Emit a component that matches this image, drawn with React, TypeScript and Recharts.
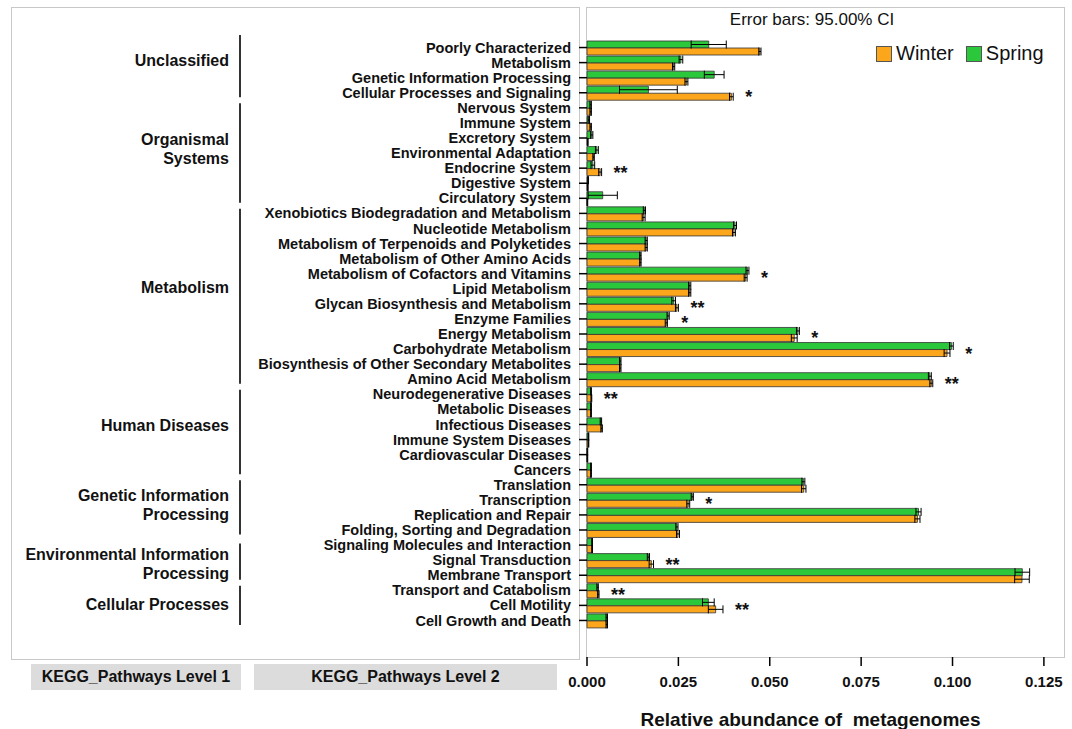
import React from "react";
import { Bar, BarChart, ErrorBar, LabelList, Legend, XAxis, YAxis } from "recharts";

// KEGG level 2 pathways, top to bottom
const categories = [
  "Poorly Characterized",
  "Metabolism",
  "Genetic Information Processing",
  "Cellular Processes and Signaling",
  "Nervous System",
  "Immune System",
  "Excretory System",
  "Environmental Adaptation",
  "Endocrine System",
  "Digestive System",
  "Circulatory System",
  "Xenobiotics Biodegradation and Metabolism",
  "Nucleotide Metabolism",
  "Metabolism of Terpenoids and Polyketides",
  "Metabolism of Other Amino Acids",
  "Metabolism of Cofactors and Vitamins",
  "Lipid Metabolism",
  "Glycan Biosynthesis and Metabolism",
  "Enzyme Families",
  "Energy Metabolism",
  "Carbohydrate Metabolism",
  "Biosynthesis of Other Secondary Metabolites",
  "Amino Acid Metabolism",
  "Neurodegenerative Diseases",
  "Metabolic Diseases",
  "Infectious Diseases",
  "Immune System Diseases",
  "Cardiovascular Diseases",
  "Cancers",
  "Translation",
  "Transcription",
  "Replication and Repair",
  "Folding, Sorting and Degradation",
  "Signaling Molecules and Interaction",
  "Signal Transduction",
  "Membrane Transport",
  "Transport and Catabolism",
  "Cell Motility",
  "Cell Growth and Death",
];

// KEGG level 1 groups (label lines) and how many level 2 rows each covers
const groupNames = [
  ["Unclassified"],
  ["Organismal", "Systems"],
  ["Metabolism"],
  ["Human Diseases"],
  ["Genetic Information", "Processing"],
  ["Environmental Information", "Processing"],
  ["Cellular Processes"],
];
const groupSizes = [4, 7, 12, 6, 4, 3, 3];

const winter = [
  0.0473, 0.0237, 0.0272, 0.0395, 0.001, 0.001, 0.0002, 0.0018, 0.0036, 0.0002, 0.0001,
  0.0155, 0.0402, 0.0162, 0.0146, 0.0434, 0.0281, 0.0246, 0.0217, 0.0567, 0.0985, 0.0091, 0.0942,
  0.0012, 0.0011, 0.004, 0.0004, 0.0001, 0.0011,
  0.0593, 0.0277, 0.0904, 0.0249, 0.0014, 0.0176, 0.119, 0.0031, 0.0352, 0.0054,
];
const spring = [
  0.0333, 0.0257, 0.0348, 0.0168, 0.001, 0.0005, 0.0013, 0.0027, 0.0016, 0.0003, 0.0043,
  0.0157, 0.0405, 0.0162, 0.0146, 0.0439, 0.0281, 0.0237, 0.0222, 0.0577, 0.0997, 0.0091, 0.0938,
  0.0011, 0.0011, 0.0038, 0.0004, 0.0001, 0.0011,
  0.0592, 0.0288, 0.0907, 0.0246, 0.0014, 0.0168, 0.1191, 0.0029, 0.0332, 0.0054,
];
// half width of the 95% CI
const winterCI = [
  0.0003, 0.0003, 0.0004, 0.0005, 0.0002, 0.0002, 0.0001, 0.0002, 0.0004, 0.0001, 0.0001,
  0.0004, 0.0004, 0.0003, 0.0002, 0.0004, 0.0003, 0.0004, 0.0003, 0.0008, 0.0008, 0.0002, 0.0004,
  0.0001, 0.0001, 0.0002, 0.0001, 0.0001, 0.0001,
  0.0006, 0.0004, 0.0007, 0.0004, 0.0001, 0.0006, 0.002, 0.0002, 0.002, 0.0002,
];
const springCI = [
  0.0048, 0.0005, 0.0027, 0.0079, 0.0002, 0.0002, 0.0003, 0.0004, 0.0005, 0.0001, 0.004,
  0.0003, 0.0004, 0.0003, 0.0002, 0.0004, 0.0003, 0.0005, 0.0003, 0.0004, 0.0005, 0.0002, 0.0004,
  0.0001, 0.0001, 0.0002, 0.0001, 0.0001, 0.0001,
  0.0004, 0.0003, 0.0007, 0.0003, 0.0001, 0.0003, 0.002, 0.0002, 0.0016, 0.0002,
];
const signif = [
  "", "", "", "*", "", "", "", "", "**", "", "",
  "", "", "", "", "*", "", "**", "*", "*", "*", "", "**",
  "**", "", "", "", "", "",
  "", "*", "", "", "", "**", "", "**", "**", "",
];
const xTicks = [0, 0.025, 0.05, 0.075, 0.1, 0.125];

const series = [
  { key: "winter", name: "Winter", color: "#fca61c" },
  { key: "spring", name: "Spring", color: "#2cc83c" },
];

const FONT = '"Liberation Sans", Arial, Helvetica, sans-serif';
const ORANGE = series[0].color;
const GREEN = series[1].color;

const W = 1072;
const H = 729;
const PLOT_TOP = 7;
const PLOT_BOTTOM = 657;
const PAD_TOP = 33;
const PAD_BOTTOM = 29;
const ROW = (PLOT_BOTTOM - PLOT_TOP - PAD_TOP - PAD_BOTTOM) / categories.length;
// the level 1 labels in the original sit a little off their group centres
const GROUP_LABEL_NUDGE = [-10, -4, -9, -7, -2, 4, -1];
const GROUP_LINE_NUDGE = [-8, 0, 0, 0, 0, 3, 0];

const data = categories.map((name, i) => ({
  name,
  winter: winter[i],
  spring: spring[i],
  winterCI: winterCI[i],
  springCI: springCI[i],
}));

const groupStarts = groupSizes.map((_, g) => groupSizes.slice(0, g).reduce((a, b) => a + b, 0));

function PathwayTick(props: any) {
  const { x, y, payload } = props;
  const i = categories.indexOf(payload.value);
  const g = groupStarts.indexOf(i);
  let group = null;
  if (g >= 0) {
    const n = groupSizes[g];
    const lines = groupNames[g];
    const yc = y + ((n - 1) / 2) * ROW + GROUP_LABEL_NUDGE[g];
    const y0 = yc - ((lines.length - 1) * 19) / 2;
    group = (
      <g>
        <line
          x1={240}
          x2={240}
          y1={y - ROW / 2 + 3 + GROUP_LINE_NUDGE[g]}
          y2={y + (n - 1) * ROW + ROW / 2 - 3}
          stroke="#000"
          strokeWidth={1.6}
        />
        {lines.map((t, k) => (
          <text key={t} x={229} y={y0 + k * 19} dy="0.35em" textAnchor="end" fontSize={16} fontWeight="bold" fill="#111" fontFamily={FONT}>
            {t}
          </text>
        ))}
      </g>
    );
  }
  return (
    <g>
      <text x={x} y={y} dy="0.35em" textAnchor="end" fontSize={14.5} fontWeight="bold" fill="#111" fontFamily={FONT}>
        {payload.value}
      </text>
      {group}
    </g>
  );
}

function StarLabel(props: any) {
  const vb = props.viewBox || {};
  const x = props.x ?? vb.x;
  const y = props.y ?? vb.y;
  const width = props.width ?? vb.width;
  const i = categories.indexOf(props.value);
  if (i < 0 || !signif[i] || !winter[i]) return null;
  const pxPerUnit = width / winter[i];
  const reach = Math.max(spring[i] + springCI[i], winter[i] + winterCI[i]);
  return (
    <text x={x + reach * pxPerUnit + 12} y={y + 10} fontSize={18} fontWeight="bold" fill="#111" fontFamily={FONT}>
      {signif[i]}
    </text>
  );
}

function LegendBox() {
  return (
    <div style={{ display: "flex", alignItems: "center", fontFamily: FONT, fontSize: 20, color: "#111" }}>
      {series.map((s) => (
        <div key={s.key} style={{ display: "flex", alignItems: "center", marginRight: 12 }}>
          <span style={{ display: "inline-block", width: 14, height: 14, background: s.color, border: "1px solid #555", marginRight: 4 }} />
          <span>{s.name}</span>
        </div>
      ))}
    </div>
  );
}

const boxStyle: React.CSSProperties = { position: "absolute", border: "1.5px solid #c8c8c8", boxSizing: "border-box" };
const tagStyle: React.CSSProperties = {
  position: "absolute",
  top: 664,
  height: 26,
  background: "#dcdcdc",
  fontFamily: FONT,
  fontWeight: "bold",
  fontSize: 16,
  lineHeight: "26px",
  textAlign: "center",
  color: "#111",
};

export default function App() {
  return (
    <div style={{ position: "absolute", left: 0, top: 0, width: W, height: H, background: "#fff" }}>
      <div style={{ ...boxStyle, left: 11, top: 7, width: 569, height: 653 }} />
      <div style={{ ...boxStyle, left: 586, top: 7, width: 479, height: 651 }} />
      <div style={{ ...tagStyle, left: 31, width: 210 }}>KEGG_Pathways Level 1</div>
      <div style={{ ...tagStyle, left: 254, width: 303 }}>KEGG_Pathways Level 2</div>
      <div style={{ position: "absolute", left: 690, top: 10, width: 244, textAlign: "center", fontFamily: FONT, fontSize: 17, lineHeight: "20px", color: "#111" }}>
        Error bars: 95.00% CI
      </div>
      <div style={{ position: "absolute", left: 0, top: 0 }}>
        <BarChart
          width={W}
          height={H}
          data={data}
          layout="vertical"
          margin={{ top: PLOT_TOP, right: 8, bottom: 0, left: 0 }}
          barCategoryGap={1}
          barGap={0}
        >
          <XAxis
            type="number"
            domain={[0, 0.1305]}
            ticks={xTicks}
            tickFormatter={(v: number) => v.toFixed(3)}
            axisLine={false}
            tickLine={{ stroke: "#000", strokeWidth: 1.5 }}
            tickSize={9}
            tickMargin={10}
            height={H - PLOT_BOTTOM}
            tick={{ fontSize: 15, fontWeight: "bold", fill: "#111", fontFamily: FONT }}
            label={{
              value: "Relative abundance of\u00a0 metagenomes",
              position: "insideBottom",
              offset: 3,
              dx: -15,
              style: { fontSize: 19, fontWeight: "bold", fill: "#111", fontFamily: FONT },
            }}
          />
          <YAxis
            type="category"
            dataKey="name"
            width={587}
            interval={0}
            axisLine={false}
            tickLine={{ stroke: "#000", strokeWidth: 1.5 }}
            tickSize={8}
            tickMargin={8}
            padding={{ top: PAD_TOP, bottom: PAD_BOTTOM }}
            tick={(p: any) => <PathwayTick {...p} />}
          />
          <Legend
            layout="horizontal"
            verticalAlign="middle"
            align="center"
            wrapperStyle={{ position: "absolute", left: 876, top: 42, width: 196, height: 26 }}
            content={() => <LegendBox />}
          />
          <Bar dataKey="spring" name="Spring" fill={GREEN} stroke="#333" strokeWidth={0.8} isAnimationActive={false}>
            <ErrorBar dataKey="springCI" direction="x" width={4} stroke="#000" strokeWidth={1} isAnimationActive={false} />
          </Bar>
          <Bar dataKey="winter" name="Winter" fill={ORANGE} stroke="#333" strokeWidth={0.8} isAnimationActive={false}>
            <ErrorBar dataKey="winterCI" direction="x" width={4} stroke="#000" strokeWidth={1} isAnimationActive={false} />
            <LabelList dataKey="name" content={StarLabel} />
          </Bar>
        </BarChart>
      </div>
    </div>
  );
}
